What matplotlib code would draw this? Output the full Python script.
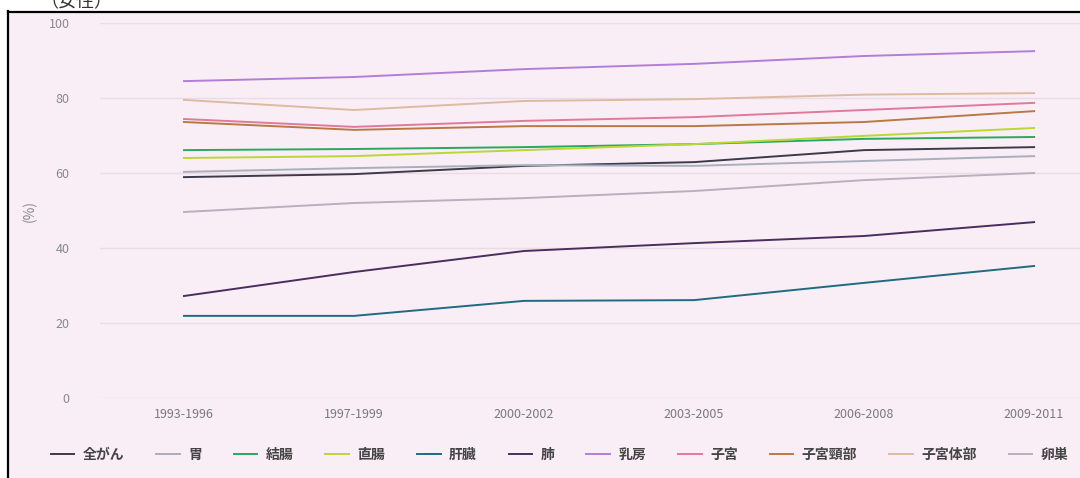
import matplotlib
matplotlib.use("Agg")
import matplotlib.pyplot as plt
from matplotlib.patches import Rectangle

plt.rcParams['font.family'] = ['Noto Sans CJK JP', 'DejaVu Sans']

periods = ["1993-1996", "1997-1999", "2000-2002", "2003-2005", "2006-2008", "2009-2011"]
names = ["全がん", "胃", "結腸", "直腸", "肝臓", "肺", "乳房", "子宮", "子宮頸部", "子宮体部", "卵巣"]
all_cancer = [58.9, 59.7, 61.9, 62.9, 66.1, 66.9]
stomach = [60.3, 61.3, 62.1, 61.9, 63.2, 64.5]
colon = [66.1, 66.4, 66.9, 67.7, 69.1, 69.6]
rectum = [64.0, 64.5, 66.1, 67.7, 69.9, 72.0]
liver = [21.9, 21.9, 25.9, 26.1, 30.7, 35.2]
lung = [27.2, 33.6, 39.2, 41.3, 43.2, 46.9]
breast = [84.5, 85.6, 87.7, 89.1, 91.2, 92.5]
uterus = [74.4, 72.3, 73.9, 74.9, 76.8, 78.7]
cervix = [73.6, 71.5, 72.5, 72.5, 73.6, 76.5]
corpus = [79.5, 76.8, 79.2, 79.7, 80.9, 81.3]
ovary = [49.6, 52.0, 53.3, 55.2, 58.1, 60.0]
yticks = [0, 20, 40, 60, 80, 100]

series = [all_cancer, stomach, colon, rectum, liver, lung, breast, uterus, cervix, corpus, ovary]
colors = ["#3d3a4a", "#a9afbd", "#2aa760", "#bcd636", "#1f6b80", "#4a2d5e",
          "#b27ed8", "#e07a9a", "#b87a45", "#dcbba3", "#bcaebc"]

W, H = 1080, 478
fig = plt.figure(figsize=(W / 100, H / 100), dpi=100)
fig.patch.set_facecolor("white")

# pink panel with black left/top border
bg = Rectangle((7 / W, -0.05), 1.2, 1 - 11 / H + 0.05, transform=fig.transFigure,
               facecolor="#f9eef6", edgecolor="none", zorder=-10)
fig.patches.append(bg)
fig.add_artist(plt.Line2D([7.5 / W, 7.5 / W], [0, 1 - 11 / H], transform=fig.transFigure,
                          color="black", lw=1.6))
fig.add_artist(plt.Line2D([7.5 / W, 1.0], [1 - 11.5 / H, 1 - 11.5 / H], transform=fig.transFigure,
                          color="black", lw=1.6))

fig.text(40 / W, 1 - 2 / H, "（女性）", fontsize=13, color="#333333", ha="left", va="center")

ax = fig.add_axes([100 / W, (H - 398) / H, (1080 - 100) / W, (398 - 23) / H])
ax.set_facecolor("none")
x = list(range(len(periods)))
for s, c, n in zip(series, colors, names):
    ax.plot(x, s, color=c, lw=1.4, label=n)

ax.set_ylim(0, 100)
ax.set_xlim(-0.494, 5.27)
ax.set_yticks(yticks)
ax.set_yticklabels([str(v) for v in yticks])
ax.set_xticks(x)
ax.set_xticklabels(periods)
ax.tick_params(axis="y", length=0, pad=22, labelsize=9, labelcolor="#8a8a8a")
ax.tick_params(axis="x", length=0, pad=7, labelsize=9, labelcolor="#7a7a7a")
ax.grid(axis="y", color="#eadbe5", lw=1)
ax.set_axisbelow(True)
for sp in ax.spines.values():
    sp.set_visible(False)
ax.set_ylabel("(%)", fontsize=10, color="#8a8a8a", labelpad=8)

handles, labels = ax.get_legend_handles_labels()
leg = fig.legend(handles, labels, loc="center left", bbox_to_anchor=(38 / W, 1 - 455 / H),
                 ncol=len(names), frameon=False, handlelength=1.7, handletextpad=0.6,
                 columnspacing=2.3, prop={"size": 10, "weight": "bold"})
for t in leg.get_texts():
    t.set_color("#444444")

fig.savefig("out.png", dpi=100)
